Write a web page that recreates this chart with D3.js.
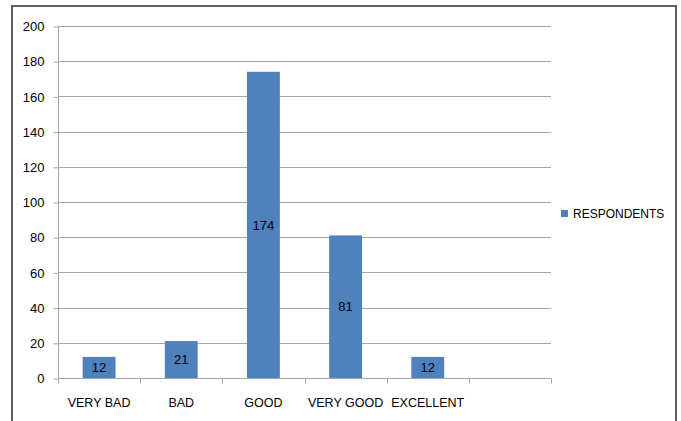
<!DOCTYPE html>
<html>
<head>
<meta charset="utf-8">
<script src="https://cdn.jsdelivr.net/npm/d3@7"></script>
<style>
  html, body { margin: 0; padding: 0; background: #fff; }
  svg { display: block; font-family: "Liberation Sans", Arial, sans-serif; }
</style>
</head>
<body>
<svg id="chart" width="681" height="421"></svg>
<script>
const categories = ["VERY BAD", "BAD", "GOOD", "VERY GOOD", "EXCELLENT", ""];
const respondents = [12, 21, 174, 81, 12];
const yTicks = [0, 20, 40, 60, 80, 100, 120, 140, 160, 180, 200];
const seriesName = "RESPONDENTS";

(function () {
const svg = d3.select("#chart");
const pLeft = 58, pRight = 551, pTop = 26, pBottom = 378;

// outer border
svg.append("rect")
  .attr("x", 12).attr("y", 6)
  .attr("width", 664).attr("height", 440)
  .attr("fill", "none").attr("stroke", "#5f5f5f").attr("stroke-width", 2);

const x = d3.scaleBand().domain(categories.map((c, i) => i)).range([pLeft, pRight]).paddingInner(0).paddingOuter(0);
const y = d3.scaleLinear().domain([0, 200]).range([pBottom, pTop]);

// gridlines
svg.append("g").selectAll("line").data(yTicks.filter(t => t > 0)).join("line")
  .attr("x1", pLeft).attr("x2", pRight)
  .attr("y1", d => Math.round(y(d)) + 0.5).attr("y2", d => Math.round(y(d)) + 0.5)
  .attr("stroke", "#a6a6a6").attr("stroke-width", 1);

// y axis
const yAxis = d3.axisLeft(y).tickValues(yTicks).tickSize(5).tickPadding(9);
const gy = svg.append("g").attr("transform", `translate(${pLeft + 0.5},0.5)`).call(yAxis);
gy.select(".domain").attr("stroke", "#a6a6a6").attr("d", `M0,${pTop - 0.5}V${pBottom}`);
gy.selectAll(".tick line").attr("stroke", "#a6a6a6");
gy.selectAll(".tick text").attr("font-size", 13).attr("fill", "#000")
  .attr("font-family", "Liberation Sans, Arial, sans-serif");

// x axis
const gx = svg.append("g").attr("transform", `translate(0,${pBottom + 0.5})`);
gx.append("line").attr("x1", pLeft).attr("x2", pRight).attr("y1", 0).attr("y2", 0).attr("stroke", "#a6a6a6");
const boundaries = categories.map((c, i) => x(i)).concat([pRight]);
gx.selectAll("line.tk").data(boundaries).join("line").attr("class", "tk")
  .attr("x1", d => Math.round(d) + 0.5).attr("x2", d => Math.round(d) + 0.5)
  .attr("y1", 0).attr("y2", 5).attr("stroke", "#a6a6a6");
gx.selectAll("text").data(categories).join("text")
  .attr("x", (d, i) => x(i) + x.bandwidth() / 2)
  .attr("y", 28)
  .attr("text-anchor", "middle")
  .attr("font-size", 12.5).attr("fill", "#000")
  .text(d => d);

// bars
const bw = x.bandwidth() * 0.4;
svg.append("g").selectAll("rect").data(respondents).join("rect")
  .attr("x", (d, i) => x(i) + (x.bandwidth() - bw) / 2)
  .attr("y", d => y(d))
  .attr("width", bw)
  .attr("height", d => pBottom - y(d))
  .attr("fill", "#4f81bd");

// value labels
svg.append("g").selectAll("text").data(respondents).join("text")
  .attr("x", (d, i) => x(i) + x.bandwidth() / 2)
  .attr("y", d => (y(d) + pBottom) / 2)
  .attr("dy", "0.36em")
  .attr("text-anchor", "middle")
  .attr("font-size", 13).attr("fill", "#000")
  .text(d => d);

// legend
const lg = svg.append("g").attr("transform", "translate(561,210)");
lg.append("rect").attr("x", 0).attr("y", 0).attr("width", 7).attr("height", 7).attr("fill", "#4f81bd");
lg.append("text").attr("x", 12).attr("y", 3.5).attr("dy", "0.36em")
  .attr("font-size", 12).attr("fill", "#000").text(seriesName);
})();
</script>
</body>
</html>
